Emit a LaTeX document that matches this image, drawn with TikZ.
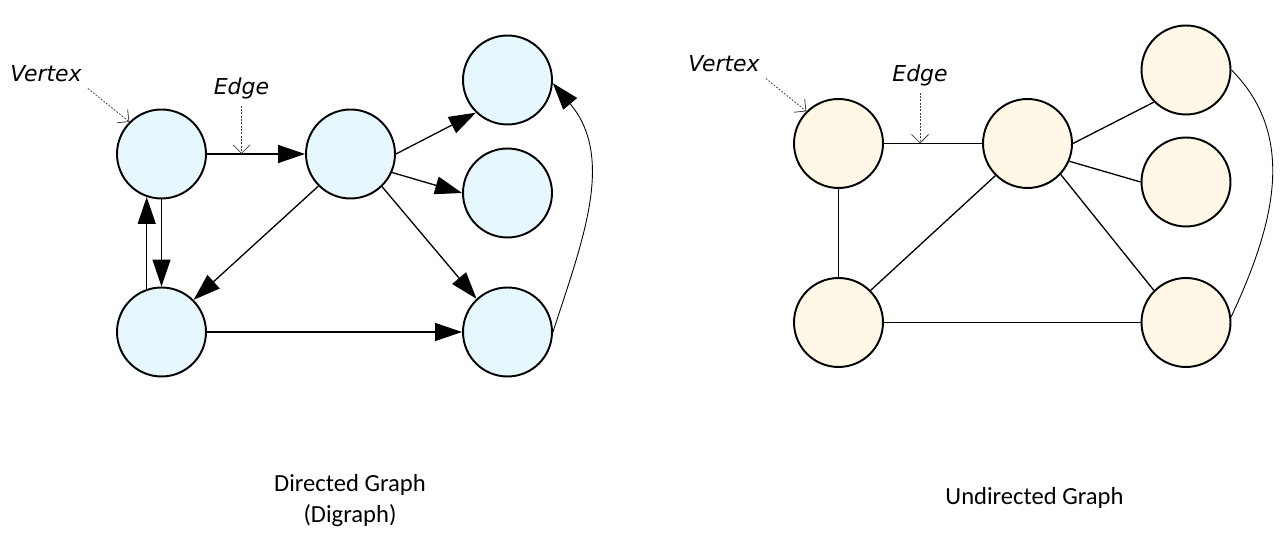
\documentclass[tikz,border=0pt]{standalone}
\usepackage{fontspec}
\setmainfont{Carlito}
\newfontfamily\notefont{DejaVu Sans}
\usepackage{tikz}
\usetikzlibrary{arrows.meta, positioning}
\usepackage{xcolor}
\definecolor{DiFill}{HTML}{E6F8FD}
\definecolor{UnFill}{HTML}{FFF8E6}
\definecolor{NoteGray}{HTML}{404040}
\tikzset{
    % Vertex styles
    divertex/.style={
        circle,
        draw=black,
        fill=DiFill,
        line width=1.1pt,
        minimum size=1.78cm,
        inner sep=0pt
    },
    unvertex/.style={
        divertex,
        fill=UnFill
    },
    % Edge styles
    edgeline/.style={
        draw=black,
        line width=0.75pt
    },
    curveline/.style={
        draw=black,
        line width=0.5pt
    },
    diarrow/.style={
        edgeline,
        -{Triangle[length=5.4mm,width=3.6mm]}
    },
    % Annotation styles
    notelabel/.style={
        anchor=base,
        font=\notefont\itshape\fontsize{12.5}{14}\selectfont
    },
    notearrow/.style={
        draw=NoteGray,
        line width=0.45pt,
        dash pattern=on 1pt off 0.9pt,
        -{Straight Barb[length=1.7mm,width=3.4mm,line width=0.45pt]}
    },
    caption/.style={
        anchor=base,
        font=\fontsize{14}{16}\selectfont
    }
}

\begin{document}
\begin{tikzpicture}[x=0.02cm, y=-0.02cm]
    \useasboundingbox (0,0) rectangle (1286,543);

    % Directed graph vertices
    \node[divertex] (A) at (161.5,154) {};
    \node[divertex] (B) at (350.5,154) {};
    \node[divertex] (C) at (507.5,80) {};
    \node[divertex] (D) at (507.5,193) {};
    \node[divertex] (E) at (507.5,332) {};
    \node[divertex] (F) at (161.5,332) {};

    % Directed edges
    \draw[diarrow] (A.east) -- (B.west);
    \draw[diarrow] (A.south) -- (F.north);
    \draw[diarrow] (F.109) -- (A.251);
    \draw[diarrow] (B.east) -- (C.226);
    \draw[diarrow] (B.-24) -- (D.west);
    \draw[diarrow] (B.-46) -- (E.133);
    \draw[diarrow] (B.225) -- (F.45);
    \draw[diarrow] (F.east) -- (E.west);
    \draw[curveline,-{Triangle[length=5.4mm,width=3.6mm]}] (E.east) to[out=72,in=-50] (C.-4);

    % Directed annotations
    \node[notelabel] (vtxL) at (46,82) {Vertex};
    \node[notelabel] (edgL) at (241.5,95) {Edge};
    \coordinate (edgL-pt) at (241.5,154);
    \draw[notearrow] (vtxL.south east) -- (A.135);
    \draw[notearrow] (edgL.south) -- (edgL-pt);

    % Undirected graph vertices
    \node[unvertex] (G) at (838.5,143.5) {};
    \node[unvertex] (H) at (1027.5,143.5) {};
    \node[unvertex] (I) at (1186,70) {};
    \node[unvertex] (J) at (1186,182) {};
    \node[unvertex] (K) at (1186,322.5) {};
    \node[unvertex] (L) at (838.5,322.5) {};

    % Undirected edges
    \draw[edgeline] (G.east) -- (H.west);
    \draw[edgeline] (G.south) -- (L.north);
    \draw[edgeline] (L.45) -- (H.225);
    \draw[edgeline] (H.east) -- (I.225);
    \draw[edgeline] (H.-23) -- (J.west);
    \draw[edgeline] (H.-43) -- (K.135);
    \draw[edgeline] (L.east) -- (K.west);
    \draw[curveline] (I.east) to[out=-45,in=65] (K.7);

    % Undirected annotations
    \node[notelabel] (vtxR) at (724,72) {Vertex};
    \node[notelabel] (edgR) at (920,82) {Edge};
    \coordinate (edgR-pt) at (920,143.5);
    \draw[notearrow] (vtxR.south east) -- (G.135);
    \draw[notearrow] (edgR.south) -- (edgR-pt);

    % Captions
    \node[caption] (capD1) at (350,492) {Directed Graph};
    \node[caption] (capD2) at (350,523) {(Digraph)};
    \node[caption] (capU) at (1034.5,505) {Undirected Graph};
\end{tikzpicture}
\end{document}
